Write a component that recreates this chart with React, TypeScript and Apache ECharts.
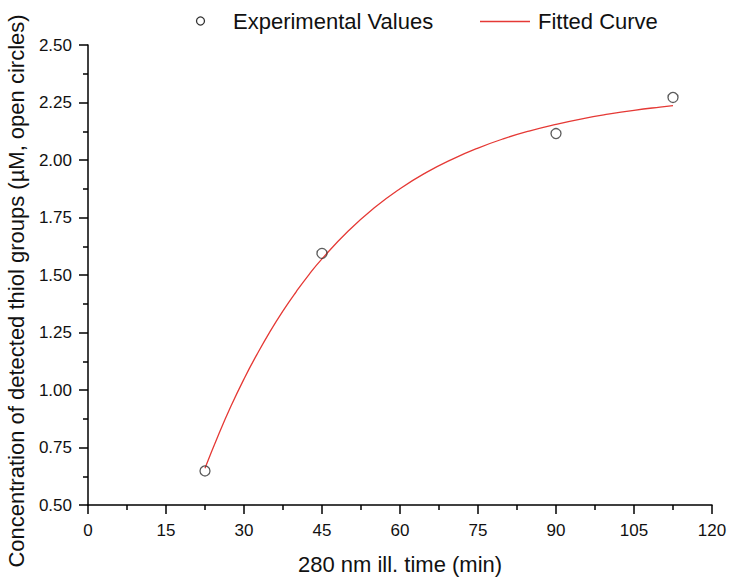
import React, { useEffect, useRef } from "react";
import * as echarts from "echarts";

const expTime = [22.5, 45, 90, 112.5];
const expConc = [0.648, 1.594, 2.115, 2.272];

const fitTime = [22.5, 25, 27.5, 30, 32.5, 35, 37.5, 40, 42.5, 45, 50, 55, 60, 65, 70, 75, 80, 85, 90, 95, 100, 105, 110, 112.5];
const fitConc = [0.66, 0.8, 0.93, 1.048, 1.155, 1.254, 1.344, 1.426, 1.502, 1.57, 1.69, 1.791, 1.875, 1.945, 2.003, 2.052, 2.093, 2.127, 2.155, 2.179, 2.199, 2.216, 2.23, 2.236];

const xTitle = "280 nm ill. time (min)";
const yTitle = "Concentration of detected thiol groups (µM, open circles)";
const legendExp = "Experimental Values";
const legendFit = "Fitted Curve";

const FONT = "'Liberation Sans', Arial, sans-serif";

export default function App() {
  const ref = useRef<HTMLDivElement>(null);
  useEffect(() => {
    if (!ref.current) return;
    const chart = echarts.init(ref.current, null, { renderer: "svg" });
    const axisCommon = {
      axisLine: { show: true, lineStyle: { color: "#000", width: 1.5 } },
      axisTick: { show: true, inside: false, length: 9, lineStyle: { color: "#000", width: 1.5 } },
      minorTick: { show: true, splitNumber: 2, length: 5, lineStyle: { color: "#000", width: 1.5 } },
      splitLine: { show: false },
      axisLabel: { color: "#111", fontSize: 17, fontFamily: FONT },
    };
    chart.setOption({
      animation: false,
      backgroundColor: "#fff",
      grid: { left: 88, right: 21, top: 45, bottom: 77, containLabel: false },
      xAxis: {
        type: "value",
        min: 0,
        max: 120,
        interval: 15,
        ...axisCommon,
        axisLabel: { ...axisCommon.axisLabel, margin: 17 },
        name: xTitle,
        nameLocation: "middle",
        nameGap: 48,
        nameTextStyle: { color: "#111", fontSize: 22, fontFamily: FONT },
      },
      yAxis: {
        type: "value",
        min: 0.5,
        max: 2.5,
        interval: 0.25,
        ...axisCommon,
        axisLabel: {
          ...axisCommon.axisLabel,
          margin: 16,
          formatter: (v: number) => v.toFixed(2),
        },
      },
      series: [
        {
          name: legendExp,
          type: "scatter",
          data: expTime.map((t, i) => [t, expConc[i]]),
          symbol: "circle",
          symbolSize: 10,
          itemStyle: { color: "rgba(0,0,0,0)", borderColor: "#333", borderWidth: 1.3 },
          z: 3,
        },
        {
          name: legendFit,
          type: "line",
          data: fitTime.map((t, i) => [t, fitConc[i]]),
          smooth: true,
          showSymbol: false,
          lineStyle: { color: "#e53935", width: 1.3 },
          z: 2,
        },
      ],
      graphic: [
        {
          type: "circle",
          shape: { cx: 200.5, cy: 21, r: 4 },
          style: { fill: "none", stroke: "#333", lineWidth: 1.3 },
        },
        {
          type: "text",
          x: 233,
          y: 21,
          style: { text: legendExp, fontSize: 22, fontFamily: FONT, fill: "#111", verticalAlign: "middle", align: "left" },
        },
        {
          type: "line",
          shape: { x1: 480, y1: 21.5, x2: 530, y2: 21.5 },
          style: { stroke: "#e53935", lineWidth: 1.3 },
        },
        {
          type: "text",
          x: 538,
          y: 21,
          style: { text: legendFit, fontSize: 22, fontFamily: FONT, fill: "#111", verticalAlign: "middle", align: "left" },
        },
        {
          type: "text",
          x: 16,
          y: 291,
          rotation: Math.PI / 2,
          style: { text: yTitle, fontSize: 22, fontFamily: FONT, fill: "#111", verticalAlign: "middle", align: "center" },
        },
      ],
    });
    return () => chart.dispose();
  }, []);
  return (
    <div
      ref={ref}
      style={{ position: "absolute", left: 0, top: 0, width: 733, height: 582 }}
    />
  );
}
